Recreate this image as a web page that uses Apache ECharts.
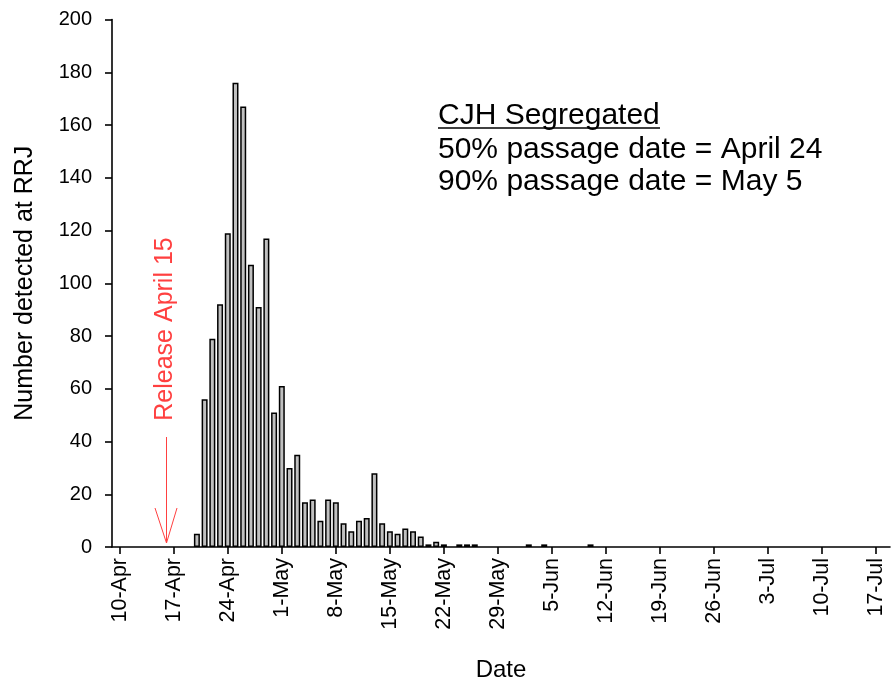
<!DOCTYPE html>
<html>
<head>
<meta charset="utf-8">
<script src="https://cdn.jsdelivr.net/npm/echarts@6/dist/echarts.min.js"></script>
<style>
  html, body { margin: 0; padding: 0; background: #fff; }
  #chart { width: 891px; height: 682px; }
</style>
</head>
<body>
<div id="chart"></div>
<script>
// detection dates (2011) and daily counts
const detectDates = [
  '04-20', '04-21', '04-22', '04-23', '04-24', '04-25', '04-26', '04-27', '04-28', '04-29', '04-30',
  '05-01', '05-02', '05-03', '05-04', '05-05', '05-06', '05-07', '05-08', '05-09', '05-10',
  '05-11', '05-12', '05-13', '05-14', '05-15', '05-16', '05-17', '05-18', '05-19', '05-20',
  '05-21', '05-22', '05-24', '05-25', '05-26', '06-02', '06-04', '06-10'
];
const detectCounts = [
  5, 56, 79, 92, 119, 176, 167, 107, 91, 117, 51,
  61, 30, 35, 17, 18, 10, 18, 17, 9, 6,
  10, 11, 28, 9, 6, 5, 7, 6, 4, 1,
  2, 1, 1, 1, 1, 1, 1, 1
];
const tickLabels = [
  '10-Apr', '17-Apr', '24-Apr', '1-May', '8-May', '15-May', '22-May', '29-May',
  '5-Jun', '12-Jun', '19-Jun', '26-Jun', '3-Jul', '10-Jul', '17-Jul'
];

// x is days after 10-Apr
const day0 = Date.UTC(2011, 3, 10);
function dayOffset(md) {
  const [m, d] = md.split('-').map(Number);
  return Math.round((Date.UTC(2011, m - 1, d) - day0) / 86400000);
}
const barData = detectDates.map((d, i) => [dayOffset(d), detectCounts[i]]);
const tickValues = tickLabels.map((_, i) => i * 7);

const chart = echarts.init(document.getElementById('chart'));
const font = 'Liberation Sans, Arial, sans-serif';

chart.setOption({
  animation: false,
  backgroundColor: '#fff',
  grid: {left: 112, right: 1, top: 19.5, bottom: 135, outerBoundsMode: 'none', containLabel: false},
  xAxis: {
    type: 'value',
    min: -1,
    max: 99.8,
    name: 'Date',
    nameLocation: 'middle',
    nameGap: 111,
    nameTextStyle: {color: '#000', fontSize: 24, fontFamily: font},
    axisLine: {onZero: false, lineStyle: {color: '#000', width: 1.6}},
    axisTick: {show: true, length: 7, lineStyle: {color: '#000', width: 1.6}, customValues: tickValues},
    axisLabel: {
      rotate: 90,
      margin: 11,
      color: '#000',
      fontSize: 21.5,
      fontFamily: font,
      customValues: tickValues,
      formatter: v => tickLabels[Math.round(v / 7)]
    },
    splitLine: {show: false}
  },
  yAxis: {
    type: 'value',
    min: 0,
    max: 200,
    interval: 20,
    name: 'Number detected at RRJ',
    nameLocation: 'middle',
    nameGap: 74,
    nameTextStyle: {color: '#000', fontSize: 25, fontFamily: font},
    axisLine: {show: true, onZero: false, lineStyle: {color: '#000', width: 1.6}},
    axisTick: {show: true, length: 7, lineStyle: {color: '#000', width: 1.6}},
    axisLabel: {margin: 20, color: '#000', fontSize: 20, fontFamily: font},
    splitLine: {show: false}
  },
  series: [{
    type: 'bar',
    data: barData,
    barWidth: 6,
    itemStyle: {color: '#c0c0c0', borderColor: '#000', borderWidth: 1.5}
  }],
  graphic: [
    {type: 'text', left: 438, top: 101, style: {text: 'CJH Segregated', font: '30px ' + font, fill: '#000'}},
    {type: 'line', shape: {x1: 438, y1: 128, x2: 660, y2: 128}, style: {stroke: '#000', lineWidth: 1.5}},
    {type: 'text', left: 438, top: 135, style: {text: '50% passage date = April 24', font: '30px ' + font, fill: '#000'}},
    {type: 'text', left: 438, top: 167, style: {text: '90% passage date = May 5', font: '30px ' + font, fill: '#000'}},
    {
      type: 'text', x: 165, y: 329, rotation: Math.PI / 2,
      style: {text: 'Release April 15', font: '25px ' + font, fill: '#ff4040', align: 'center', verticalAlign: 'middle'}
    },
    {type: 'line', shape: {x1: 166.5, y1: 437, x2: 166.5, y2: 543}, style: {stroke: '#ff4040', lineWidth: 1}},
    {type: 'polyline', shape: {points: [[155, 508], [166.5, 543], [177, 508]]}, style: {stroke: '#ff4040', lineWidth: 1, fill: null}}
  ]
});
</script>
</body>
</html>
